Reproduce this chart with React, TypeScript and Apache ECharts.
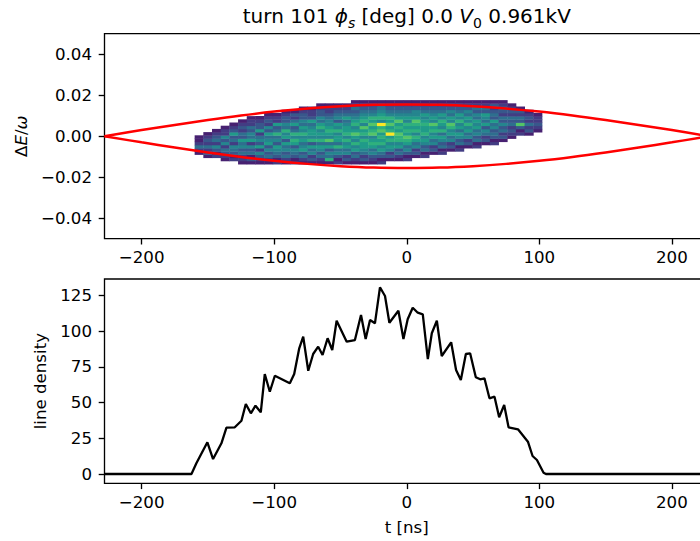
import React, { useEffect, useRef } from 'react';
import * as echarts from 'echarts';

// ---------- data ----------
const xTicks = [-200, -100, 0, 100, 200];
const dETicks = [-0.04, -0.02, 0, 0.02, 0.04];
const densityTicks = [0, 25, 50, 75, 100, 125];

// 2D histogram of particles: bin edges and counts per column (rows bottom -> top, base-36 digits)
const histX0 = -160;
const histDx = 6.55;
const histY0 = -0.0136;
const histDy = 0.00156;
const histColumns = [
  '00012421100000000000',
  '00132423210000000000',
  '00213524321000000000',
  '01234253522100000000',
  '02134524363210000000',
  '12243546342321000000',
  '13143526453422100000',
  '12352635426332100000',
  '12435365463523210000',
  '21345635474362210000',
  '12435463657453321000',
  '21345367574364231000',
  '12436546575645332100',
  '13254637566546322100',
  '12435647565764533210',
  '17453648567655432210',
  '21354746657563543210',
  '13254657576654643210',
  '12436575686576543421',
  '13245667576857654321',
  '12354676587686754321',
  '213465767687b5765431',
  '013256576b7686754321',
  '01243657786768654321',
  '02135467867675654321',
  '00132546757678655321',
  '00214356576676564321',
  '00013254657685654321',
  '00021435647567564321',
  '00001325465785645321',
  '00002143564657564321',
  '00000132546575645321',
  '00000214354656453421',
  '00000013245364563421',
  '00000021343546343231',
  '00000001324353423421',
  '00000000123243423210',
  '00000000021383423100',
  '00000000013242321000',
  '00000000001232210000',
];

// separatrix
const sepT = [-228, -200, -175, -150, -125, -100, -75, -50, -25, 0, 25, 50, 75, 100, 125, 150, 175, 200, 228];
const sepUpper = [0, 0.003, 0.0055, 0.0079, 0.0101, 0.012, 0.0135, 0.0146, 0.0153, 0.0155, 0.0153, 0.0146, 0.0135, 0.012, 0.0101, 0.0079, 0.0055, 0.003, 0];
const sepLower = [0, -0.003, -0.0055, -0.0079, -0.0101, -0.012, -0.0135, -0.0146, -0.0153, -0.0155, -0.0153, -0.0146, -0.0135, -0.012, -0.0101, -0.0079, -0.0055, -0.003, 0];

// line density
const lineT = [
  -228, -162.4, -158.7, -150.4, -146.1, -139.8, -136, -129.7, -124.7, -121.4, -117.6, -114.1, -110.1,
  -107.1, -103.3, -99.5, -88.2, -84.9, -81.1, -78.1, -74.3, -70.6, -66.8, -63.5, -59.7, -56.2, -52.9,
  -45.3, -39.1, -34.5, -31, -27.7, -24, -20.2, -16.4, -13.1, -6.3, -2.5, 0.7, 4.5, 8.3, 12.1, 15.9,
  18.9, 22.7, 26.4, 33.5, 37.2, 40.8, 44.6, 47.8, 52.1, 55.4, 58.6, 62.4, 66.2, 69.7, 73.5, 76.8,
  83.9, 91.4, 94.9, 98.2, 103.2, 105, 228,
];
const lineV = [
  0, 0, 7.5, 22.2, 10.5, 21.5, 32.4, 32.7, 37.3, 49, 42.5, 47.8, 43.2,
  70, 57.6, 68.8, 63.5, 70, 88, 96.1, 72.3, 84, 89.1, 83.3, 95, 86.8, 107.3,
  92.6, 93.8, 111.3, 94.5, 107.8, 105.5, 130.7, 124.6, 105.9, 114.3, 94.5, 108.3, 116.4, 112.9, 111.8, 80.5,
  98.5, 107.3, 82.6, 92.2, 72.8, 65.8, 84, 84.5, 67.7, 66.3, 67, 53, 54.1, 39.7, 48.3, 32.7,
  31.3, 22.6, 12.6, 9.8, 0.9, 0, 0,
];

const viridis = ['#440154', '#482878', '#3e4989', '#31688e', '#26828e', '#1f9e89', '#35b779', '#6ece58', '#b5de2b', '#fde725'];

// ---------- style ----------
const FONT = 'DejaVu Sans';
const FS = 16.67;

const fmtInt = (v: number) => (v < 0 ? '\u2212' + Math.abs(v) : String(v));
const fmt2 = (v: number) => {
  const s = Math.abs(v).toFixed(2);
  return v < -1e-9 ? '\u2212' + s : s;
};

export default function App() {
  const ref = useRef<HTMLDivElement>(null);

  useEffect(() => {
    if (!ref.current) return;
    const chart = echarts.init(ref.current, undefined, { renderer: 'svg' });

    const heatData: number[][] = [];
    histColumns.forEach((col, i) => {
      for (let j = 0; j < col.length; j++) {
        const c = parseInt(col[j], 36);
        if (c > 0) heatData.push([histX0 + i * histDx, histY0 + j * histDy, c]);
      }
    });

    const label = { fontFamily: FONT, fontSize: FS, color: '#000' };
    const tick = (vals: number[]) => ({
      show: true,
      inside: false,
      length: 5.8,
      lineStyle: { color: '#000', width: 1.33 },
      customValues: vals,
    });

    const xAxisBase = (gi: number) => ({
      type: 'value',
      gridIndex: gi,
      position: 'bottom',
      min: -228,
      max: 228,
      axisLine: { show: false, onZero: false },
      splitLine: { show: false },
      axisTick: tick(xTicks),
      axisLabel: { ...label, margin: 10.7, customValues: xTicks, formatter: fmtInt },
    });

    const option: any = {
      animation: false,
      backgroundColor: '#fff',
      grid: [
        { left: 104.5, top: 33.7, width: 604.5, height: 205, show: true, borderColor: '#000', borderWidth: 1.33, backgroundColor: 'transparent' },
        { left: 104.5, top: 279, width: 604.5, height: 204.3, show: true, borderColor: '#000', borderWidth: 1.33, backgroundColor: 'transparent' },
      ],
      xAxis: [
        xAxisBase(0),
        {
          ...xAxisBase(1),
          name: 't [ns]',
          nameLocation: 'middle',
          nameGap: 36,
          nameTextStyle: { ...label },
        },
      ],
      yAxis: [
        {
          type: 'value',
          gridIndex: 0,
          position: 'left',
          min: -0.05,
          max: 0.05,
          axisLine: { show: false, onZero: false },
          splitLine: { show: false },
          axisTick: tick(dETicks),
          axisLabel: { ...label, margin: 12.5, customValues: dETicks, formatter: fmt2 },
          name: '{n|\u0394}{i|E}{n|/}{i|\u03c9}',
          nameLocation: 'middle',
          nameRotate: 90,
          nameGap: 72,
          nameTextStyle: {
            ...label,
            rich: {
              n: { fontFamily: FONT, fontSize: FS, color: '#000' },
              i: { fontFamily: FONT, fontSize: FS, color: '#000', fontStyle: 'italic' },
            },
          },
        },
        {
          type: 'value',
          gridIndex: 1,
          position: 'left',
          min: -6.5,
          max: 136.5,
          axisLine: { show: false, onZero: false },
          splitLine: { show: false },
          axisTick: tick(densityTicks),
          axisLabel: { ...label, margin: 12.5, customValues: densityTicks, formatter: fmtInt },
          name: 'line density',
          nameLocation: 'middle',
          nameRotate: 90,
          nameGap: 55,
          nameTextStyle: { ...label },
        },
      ],
      visualMap: {
        type: 'continuous',
        show: false,
        seriesIndex: 0,
        dimension: 2,
        min: 0,
        max: 11,
        inRange: { color: viridis },
      },
      graphic: [
        {
          type: 'text',
          x: 406.8,
          y: 15.7,
          style: {
            text: '{n|turn 101 }{i|\u03d5}{si|s}{n| [deg] 0.0 }{i|V}{s0|0}{n| 0.961kV}',
            align: 'center',
            verticalAlign: 'middle',
            fontFamily: FONT,
            fontSize: 20,
            fill: '#000',
            rich: {
              n: { fontFamily: FONT, fontSize: 20, color: '#000', lineHeight: 28 },
              i: { fontFamily: FONT, fontSize: 20, color: '#000', fontStyle: 'italic', lineHeight: 28 },
              si: { fontFamily: FONT, fontSize: 14, color: '#000', fontStyle: 'italic', lineHeight: 18, verticalAlign: 'bottom' },
              s0: { fontFamily: FONT, fontSize: 14, color: '#000', lineHeight: 18, verticalAlign: 'bottom' },
            },
          },
        },
      ],
      series: [
        {
          type: 'custom',
          xAxisIndex: 0,
          yAxisIndex: 0,
          data: heatData,
          encode: { x: 0, y: 1 },
          z: 1,
          renderItem: (params: any, api: any) => {
            const x = api.value(0);
            const y = api.value(1);
            const a = api.coord([x, y + histDy]);
            const b = api.coord([x + histDx, y]);
            return {
              type: 'rect',
              shape: { x: a[0], y: a[1], width: b[0] - a[0] + 0.4, height: b[1] - a[1] + 0.4 },
              style: { fill: api.visual('color') },
            };
          },
        },
        {
          type: 'line',
          xAxisIndex: 0,
          yAxisIndex: 0,
          data: sepT.map((t, k) => [t, sepUpper[k]]),
          symbol: 'none',
          smooth: 0.4,
          z: 3,
          lineStyle: { color: '#ff0000', width: 2.5 },
        },
        {
          type: 'line',
          xAxisIndex: 0,
          yAxisIndex: 0,
          data: sepT.map((t, k) => [t, sepLower[k]]),
          symbol: 'none',
          smooth: 0.4,
          z: 3,
          lineStyle: { color: '#ff0000', width: 2.5 },
        },
        {
          type: 'line',
          xAxisIndex: 1,
          yAxisIndex: 1,
          data: lineT.map((t, k) => [t, lineV[k]]),
          symbol: 'none',
          z: 3,
          lineStyle: { color: '#000', width: 2.3 },
        },
      ],
    };

    chart.setOption(option);
    return () => chart.dispose();
  }, []);

  return (
    <div
      style={{
        position: 'fixed',
        left: 0,
        top: 0,
        width: 700,
        height: 541,
        overflow: 'hidden',
        background: '#fff',
      }}
    >
      <div ref={ref} style={{ width: 720, height: 541 }} />
    </div>
  );
}
